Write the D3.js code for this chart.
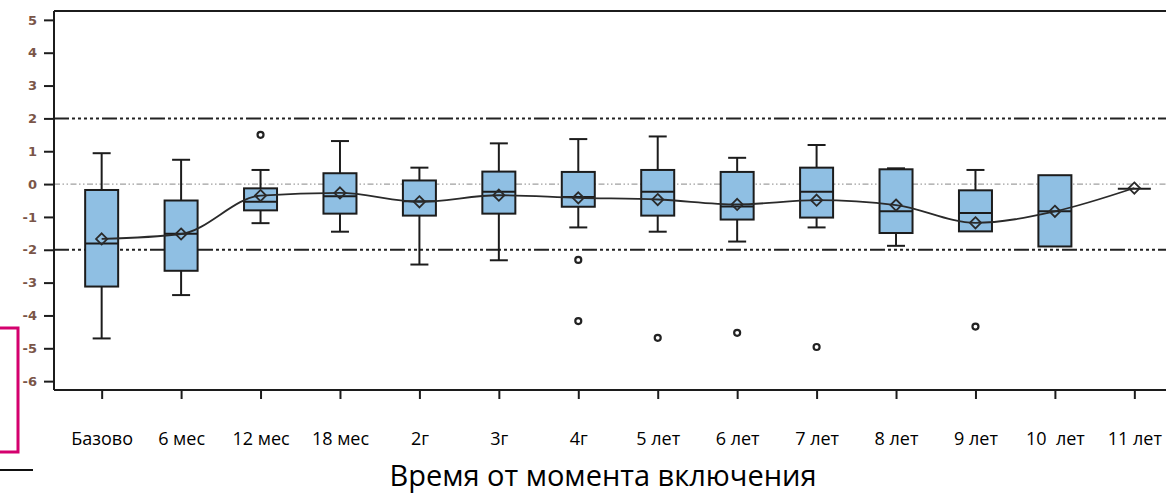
<!DOCTYPE html>
<html>
<head>
<meta charset="utf-8">
<script src="https://cdn.jsdelivr.net/npm/d3@7"></script>
<style>
  html, body { margin: 0; padding: 0; background: #fff; }
  svg { display: block; }
</style>
</head>
<body>
<svg id="chart" width="1166" height="495"></svg>
<script>
// ---- data ----
const categories = ["Базово", "6 мес", "12 мес", "18 мес", "2г", "3г", "4г", "5 лет", "6 лет", "7 лет", "8 лет", "9 лет", "10  лет", "11 лет"];
const whiskerLow  = [-4.70, -3.38, -1.19, -1.45, -2.45, -2.32, -1.32, -1.45, -1.75, -1.32, -1.88, -1.44, -1.90, -0.14];
const q1          = [-3.12, -2.64, -0.80, -0.90, -0.96, -0.90, -0.69, -0.96, -1.08, -1.02, -1.49, -1.44, -1.90, -0.14];
const medians     = [-1.81, -1.51, -0.54, -0.37, -0.52, -0.23, -0.39, -0.23, -0.68, -0.23, -0.83, -0.88, -0.83, -0.14];
const q3          = [-0.18, -0.50, -0.13,  0.33,  0.11,  0.38,  0.37,  0.43,  0.37,  0.50,  0.45, -0.19,  0.27, -0.14];
const whiskerHigh = [ 0.94,  0.74,  0.43,  1.31,  0.50,  1.24,  1.37,  1.45,  0.80,  1.19,  0.48,  0.43,  0.27, -0.14];
const means       = [-1.67, -1.52, -0.35, -0.27, -0.54, -0.34, -0.42, -0.47, -0.62, -0.49, -0.64, -1.18, -0.83, -0.12];
const outlierCats   = ["12 мес", "4г", "4г", "5 лет", "6 лет", "7 лет", "9 лет"];
const outlierValues = [1.50, -2.31, -4.17, -4.68, -4.53, -4.96, -4.34];
const yTickValues = [-6, -5, -4, -3, -2, -1, 0, 1, 2, 3, 4, 5];
const refLinesDark = [2, -2];
const refLinesLight = [0];
const xTitle = "Время от момента включения";

// ---- layout ----
const W = 1166, H = 495;
const plotLeft = 54, plotTop = 11, plotBottom = 390;
const svg = d3.select("#chart");

const x = d3.scalePoint().domain(categories).range([plotLeft, 1182]).padding(0.6);
const y = d3.scaleLinear().domain([-6.27, 5.27]).range([plotBottom, plotTop]);

const boxW = 33, capW = 18;
const boxFill = "#8fbfe3", ink = "#1c1c1c";

// reference lines
svg.append("g").selectAll("line").data(refLinesLight).join("line")
  .attr("x1", plotLeft).attr("x2", W).attr("y1", d => y(d)).attr("y2", d => y(d))
  .attr("stroke", "#a0a0a0").attr("stroke-width", 1.3)
  .attr("stroke-dasharray", "6 2.5 1.5 2.5 1.5 2.5");
svg.append("g").selectAll("line").data(refLinesDark).join("line")
  .attr("x1", plotLeft).attr("x2", W).attr("y1", d => y(d)).attr("y2", d => y(d))
  .attr("stroke", "#222").attr("stroke-width", 2)
  .attr("stroke-dasharray", "15 3 3 3 3 3 3 3 3 3 3 3");

// frame: top border
svg.append("line").attr("x1", plotLeft).attr("x2", W).attr("y1", plotTop).attr("y2", plotTop)
  .attr("stroke", ink).attr("stroke-width", 2);

// axes
const yAxis = d3.axisLeft(y).tickValues(yTickValues).tickSize(10).tickSizeOuter(0).tickPadding(7)
  .tickFormat(d => d < 0 ? "-" + Math.abs(d) : String(d));
const gy = svg.append("g").attr("transform", `translate(${plotLeft},0)`).call(yAxis);
gy.select(".domain").attr("stroke", ink).attr("stroke-width", 2)
  .attr("d", `M0,${plotTop}V${plotBottom}`);
gy.selectAll(".tick line").attr("stroke", ink).attr("stroke-width", 2);
gy.selectAll(".tick text").attr("fill", "#7a5548")
  .style("font-family", "'DejaVu Sans', Verdana, sans-serif")
  .style("font-weight", "bold").style("font-size", "13px");

const xAxis = d3.axisBottom(x).tickSize(9).tickSizeOuter(0).tickPadding(33);
const gx = svg.append("g").attr("transform", `translate(0,${plotBottom})`).call(xAxis);
gx.select(".domain").attr("stroke", ink).attr("stroke-width", 2)
  .attr("d", `M${plotLeft},0H${W}`);
gx.selectAll(".tick line").attr("stroke", ink).attr("stroke-width", 2);
gx.selectAll(".tick text").attr("fill", "#000")
  .style("font-family", "'Open Sans', sans-serif").style("font-size", "18px")
  .style("white-space", "pre");

// box data
const boxes = categories.map((c, i) => ({
  c, lo: whiskerLow[i], q1: q1[i], med: medians[i], q3: q3[i], hi: whiskerHigh[i], mean: means[i]
}));

const gb = svg.append("g");
const lowW = boxes.filter(d => d.lo < d.q1);
const highW = boxes.filter(d => d.hi > d.q3);
// whiskers
gb.append("g").selectAll("line").data(lowW).join("line")
  .attr("x1", d => x(d.c)).attr("x2", d => x(d.c)).attr("y1", d => y(d.q1)).attr("y2", d => y(d.lo))
  .attr("stroke", ink).attr("stroke-width", 2);
gb.append("g").selectAll("line").data(lowW).join("line")
  .attr("x1", d => x(d.c) - capW / 2).attr("x2", d => x(d.c) + capW / 2).attr("y1", d => y(d.lo)).attr("y2", d => y(d.lo))
  .attr("stroke", ink).attr("stroke-width", 2);
gb.append("g").selectAll("line").data(highW).join("line")
  .attr("x1", d => x(d.c)).attr("x2", d => x(d.c)).attr("y1", d => y(d.q3)).attr("y2", d => y(d.hi))
  .attr("stroke", ink).attr("stroke-width", 2);
gb.append("g").selectAll("line").data(highW).join("line")
  .attr("x1", d => x(d.c) - capW / 2).attr("x2", d => x(d.c) + capW / 2).attr("y1", d => y(d.hi)).attr("y2", d => y(d.hi))
  .attr("stroke", ink).attr("stroke-width", 2);
// boxes
gb.append("g").selectAll("rect").data(boxes.filter(d => d.q3 > d.q1)).join("rect")
  .attr("x", d => x(d.c) - boxW / 2).attr("width", boxW)
  .attr("y", d => y(d.q3)).attr("height", d => y(d.q1) - y(d.q3))
  .attr("fill", boxFill).attr("stroke", ink).attr("stroke-width", 2);
// medians
gb.append("g").selectAll("line").data(boxes).join("line")
  .attr("x1", d => x(d.c) - boxW / 2).attr("x2", d => x(d.c) + boxW / 2)
  .attr("y1", d => y(d.med)).attr("y2", d => y(d.med))
  .attr("stroke", ink).attr("stroke-width", 2);

// mean line
const line = d3.line().x(d => x(d.c)).y(d => y(d.mean)).curve(d3.curveMonotoneX);
svg.append("path").datum(boxes).attr("d", line)
  .attr("fill", "none").attr("stroke", "#2a2a2a").attr("stroke-width", 1.8);

// mean diamonds
const diamond = d3.symbol().type(d3.symbolDiamond2).size(80);
svg.append("g").selectAll("path").data(boxes).join("path")
  .attr("transform", d => `translate(${x(d.c)},${y(d.mean)})`)
  .attr("d", diamond)
  .attr("fill", "none").attr("stroke", "#2a2a2a").attr("stroke-width", 1.8);

// outliers
svg.append("g").selectAll("circle").data(outlierCats.map((c, i) => ({ c, v: outlierValues[i] }))).join("circle")
  .attr("cx", d => x(d.c)).attr("cy", d => y(d.v)).attr("r", 3)
  .attr("fill", "#fff").attr("stroke", "#222").attr("stroke-width", 2.2);

// x title
svg.append("text").attr("x", 603).attr("y", 486).attr("text-anchor", "middle")
  .style("font-family", "'Open Sans', sans-serif").style("font-size", "29px")
  .attr("fill", "#000").text(xTitle);

// decorative slide elements at the left edge
svg.append("path").attr("d", "M0,328H18V452H0")
  .attr("fill", "none").attr("stroke", "#d4006e").attr("stroke-width", 3);
svg.append("line").attr("x1", 0).attr("x2", 33).attr("y1", 470).attr("y2", 470)
  .attr("stroke", "#111").attr("stroke-width", 2);
</script>
</body>
</html>
